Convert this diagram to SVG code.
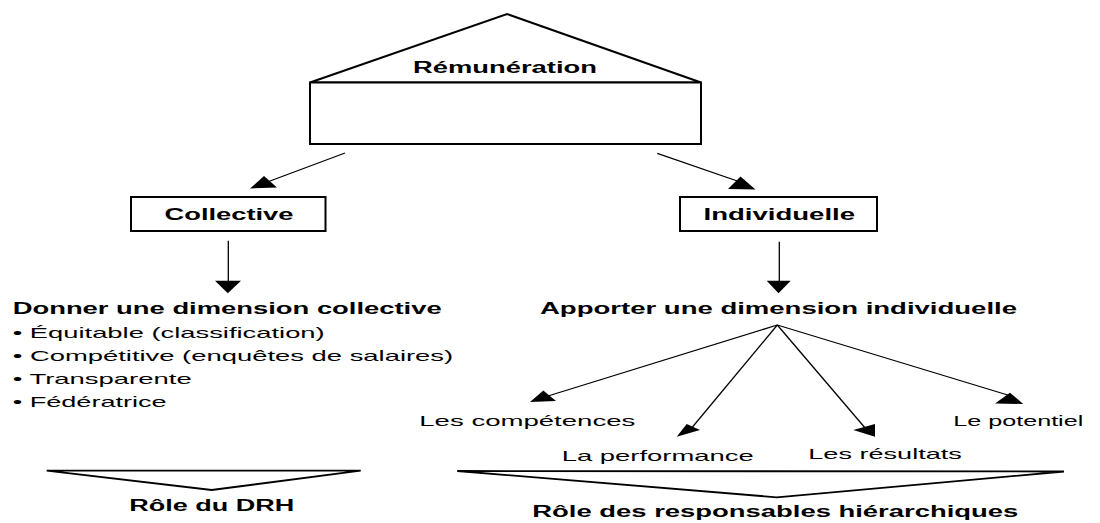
<svg xmlns="http://www.w3.org/2000/svg" width="1100" height="523" viewBox="0 0 1100 523">
<style>
.shape{fill:#fff;stroke:#000;stroke-width:2;stroke-linejoin:miter}
.tri{fill:#fff;stroke:#000;stroke-width:1.8;stroke-linejoin:miter}
.ln{fill:none;stroke:#000;stroke-width:1.3}
.ah{fill:#000;stroke:none}
.b{font-family:"Liberation Sans",Arial,sans-serif;font-weight:bold;font-size:16px;fill:#000}
.r{font-family:"Liberation Sans",Arial,sans-serif;font-size:15px;fill:#000}
</style>
<rect width="1100" height="523" fill="#fff"/>
<g id="remuneration">
  <polygon class="shape" points="310,82.5 507,14 701,82.5"/>
  <rect class="shape" x="310" y="82.5" width="391" height="61.5"/>
  <text class="b" x="413" y="73" textLength="184" lengthAdjust="spacingAndGlyphs">Rémunération</text>
</g>
<g id="collective">
  <rect class="shape" x="131" y="197" width="194.5" height="34"/>
  <text class="b" x="164.5" y="220" textLength="129" lengthAdjust="spacingAndGlyphs">Collective</text>
</g>
<g id="individuelle">
  <rect class="shape" x="680" y="197" width="197" height="34"/>
  <text class="b" x="703.5" y="220" textLength="151.5" lengthAdjust="spacingAndGlyphs">Individuelle</text>
</g>
<g id="dimension-collective">
  <text class="b" x="12.7" y="314" textLength="429" lengthAdjust="spacingAndGlyphs">Donner une dimension collective</text>
  <text class="r" x="12.7" y="338" textLength="312" lengthAdjust="spacingAndGlyphs">• Équitable (classification)</text>
  <text class="r" x="12.7" y="360.5" textLength="440.5" lengthAdjust="spacingAndGlyphs">• Compétitive (enquêtes de salaires)</text>
  <text class="r" x="12.7" y="383.5" textLength="179" lengthAdjust="spacingAndGlyphs">• Transparente</text>
  <text class="r" x="12.7" y="406.5" textLength="154" lengthAdjust="spacingAndGlyphs">• Fédératrice</text>
</g>
<g id="dimension-individuelle">
  <text class="b" x="540" y="314" textLength="477" lengthAdjust="spacingAndGlyphs">Apporter une dimension individuelle</text>
</g>
<g id="competences">
  <text class="r" x="419.3" y="425.5" textLength="216" lengthAdjust="spacingAndGlyphs">Les compétences</text>
</g>
<g id="performance">
  <text class="r" x="561.7" y="461" textLength="192" lengthAdjust="spacingAndGlyphs">La performance</text>
</g>
<g id="resultats">
  <text class="r" x="808.3" y="459" textLength="153.5" lengthAdjust="spacingAndGlyphs">Les résultats</text>
</g>
<g id="potentiel">
  <text class="r" x="953.3" y="425.5" textLength="130" lengthAdjust="spacingAndGlyphs">Le potentiel</text>
</g>
<g id="role-drh">
  <polygon class="tri" points="46.7,470.7 360.7,470.7 211.7,490"/>
  <text class="b" x="129.3" y="510.5" textLength="165" lengthAdjust="spacingAndGlyphs">Rôle du DRH</text>
</g>
<g id="role-hierarchiques">
  <polygon class="tri" points="457.3,471 1064,471.5 776.7,497.3"/>
  <text class="b" x="532.3" y="516.5" textLength="486" lengthAdjust="spacingAndGlyphs">Rôle des responsables hiérarchiques</text>
</g>
<g id="connectors">
  <line class="ln" x1="345" y1="153" x2="262" y2="184"/>
  <polygon class="ah" points="250,188.5 277,187.5 264,176"/>
  <line class="ln" x1="657.3" y1="153.3" x2="746" y2="184"/>
  <polygon class="ah" points="728,189 755.5,189.5 740.5,176.5"/>
  <line class="ln" x1="228.3" y1="240.7" x2="228.3" y2="283"/>
  <polygon class="ah" points="215,280.7 241,280.7 227.8,293.3"/>
  <line class="ln" x1="779.3" y1="241.7" x2="779.3" y2="283"/>
  <polygon class="ah" points="766.7,280.7 790.7,280.7 778.5,293.3"/>
  <line class="ln" x1="777.3" y1="325" x2="548" y2="396"/>
  <polygon class="ah" points="530,402 556,401 543.3,390.5"/>
  <line class="ln" x1="777.3" y1="325" x2="690" y2="430"/>
  <polygon class="ah" points="676.7,436.7 700,430 686.7,424"/>
  <line class="ln" x1="777.3" y1="325" x2="866" y2="429"/>
  <polygon class="ah" points="853.3,430 875,424 875,436.7"/>
  <line class="ln" x1="777.3" y1="325" x2="1011" y2="396"/>
  <polygon class="ah" points="995,403.5 1023.3,404 1010,392.7"/>
</g>
</svg>
